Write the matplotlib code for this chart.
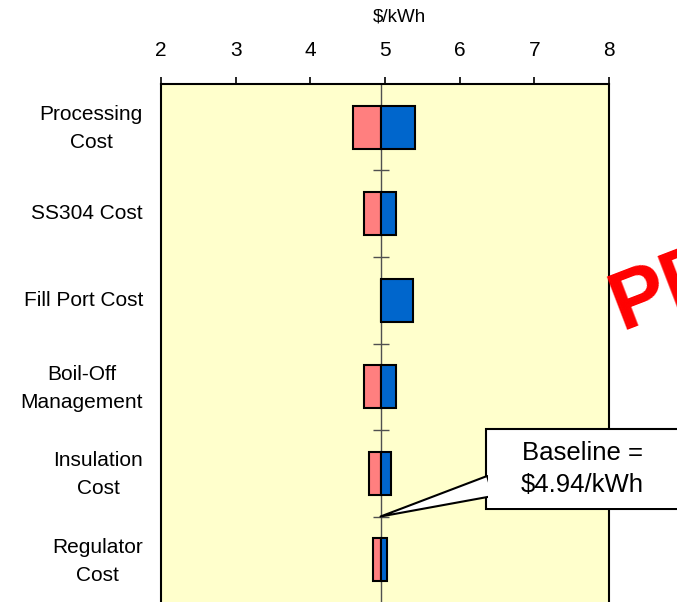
import numpy as np
import matplotlib.pyplot as plt
from matplotlib.transforms import ScaledTranslation

plt.rcParams['font.family'] = ['Liberation Sans', 'DejaVu Sans']

categories = ['Processing\nCost', 'SS304 Cost', 'Fill Port Cost',
              'Boil-Off\nManagement', 'Insulation\nCost', 'Regulator\nCost']
low_values = [4.575, 4.72, 4.94, 4.72, 4.79, 4.84]
high_values = [5.40, 5.15, 5.37, 5.15, 5.08, 5.02]
baseline = 4.94
x_ticks = [2, 3, 4, 5, 6, 7, 8]

fig = plt.figure(figsize=(6.77, 6.02), dpi=100)
ax = fig.add_axes([0.2378, -0.0017, 0.6618, 0.8622])
ax.set_facecolor('#FFFFCC')

y = np.arange(len(categories))
low = np.array(low_values)
high = np.array(high_values)

# centre line with small cross ticks between categories
ax.axvline(baseline, color='#505050', lw=1, zorder=1)
ax.plot([baseline] * (len(categories) - 1), y[:-1] + 0.5, ls='none',
        marker='_', ms=11, mew=1, color='#505050', zorder=1)

ax.barh(y, low - baseline, left=baseline, height=0.5, color='#FF7F7F',
        edgecolor='black', linewidth=1.5, zorder=2)
ax.barh(y, high - baseline, left=baseline, height=0.5, color='#0066CC',
        edgecolor='black', linewidth=1.5, zorder=2)

ax.set_xlim(2, 8)
ax.set_ylim(len(categories) - 0.5, -0.5)
ax.xaxis.tick_top()
ax.set_xticks(x_ticks)
ax.tick_params(axis='x', direction='out', length=5, width=1.2, pad=12.5,
               labelsize=15, colors='black')
ax.set_yticks(y)
ax.set_yticklabels(categories, fontsize=15, multialignment='center',
                   linespacing=1.6)
ax.tick_params(axis='y', length=0, pad=13)
for lab in ax.get_yticklabels():
    up = 5 if '\n' in lab.get_text() else 2
    lab.set_transform(lab.get_transform() +
                      ScaledTranslation(0, up / 100, fig.dpi_scale_trans))
for s in ax.spines.values():
    s.set_linewidth(1.5)
ax.spines['bottom'].set_visible(False)

ax.xaxis.set_label_position('top')
ax.set_xlabel('$/kWh', fontsize=13.5)
ax.xaxis.set_label_coords(0.533, 1.129)
ax.xaxis.label.set_va('center')

# callout: framed box, wedge pointing at the baseline, white inner fill on top
tf = fig.transFigure
bx, by, bw, bh = 486 / 677, 93 / 602, 0.3, 80 / 602
ax.add_patch(plt.Rectangle((bx, by), bw, bh, transform=tf, fc='white',
                           ec='black', lw=1.5, clip_on=False, zorder=5))
ax.annotate('', xy=(baseline, 4.5), xycoords='data',
            xytext=(bx + 4 / 677, 116 / 602), textcoords='figure fraction',
            arrowprops=dict(arrowstyle='wedge,tail_width=0.75,shrink_factor=0.5',
                            fc='white', ec='black', lw=1.5, mutation_scale=20,
                            shrinkA=0, shrinkB=0),
            annotation_clip=False, zorder=6)
ax.add_patch(plt.Rectangle((bx + 1.5 / 677, by + 1.5 / 602), bw, bh - 3 / 602,
                           transform=tf, fc='white', ec='none', clip_on=False,
                           zorder=7))
ax.text(582 / 677, 133 / 602, 'Baseline =\n$4.94/kWh', transform=tf,
        ha='center', va='center', fontsize=18.5, linespacing=1.4, zorder=8)

fig.text(621 / 677, 272 / 602, 'PR', color='red', fontsize=60, fontweight='bold',
         rotation=21, rotation_mode='anchor', ha='left', va='baseline')

fig.savefig('out.png', dpi=100)
